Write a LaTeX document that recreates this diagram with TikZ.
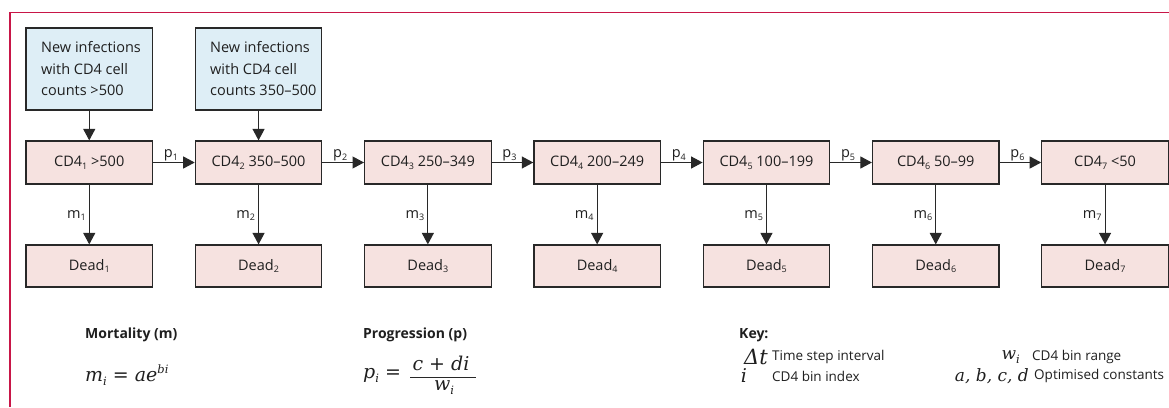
\documentclass[tikz,border=0pt]{standalone}
\usepackage{fontspec}
\setmainfont{Open Sans}
\newfontfamily\fml{DejaVu Serif}
\usetikzlibrary{arrows.meta}
\definecolor{framec}{RGB}{200,22,72}
\definecolor{bluefill}{RGB}{222,238,246}
\definecolor{pinkfill}{RGB}{246,226,224}
\definecolor{edgec}{RGB}{40,40,40}
\newcommand\lsub[1]{\raisebox{-0.35ex}{\fontsize{9}{9}\selectfont #1}}
\newcommand\fsub[1]{\raisebox{-0.4ex}{\fontsize{11.5}{12}\selectfont #1}}
\newcommand\fsup[1]{\raisebox{0.75ex}{\fontsize{11.5}{12}\selectfont #1}}
\begin{document}
\begin{tikzpicture}[x=1pt,y=-1pt,
  txt/.style={font=\fontsize{14.5}{21.5}\selectfont, text=black!88},
  box/.style={draw=edgec, line width=1.2pt, minimum width=126.5pt, minimum height=43pt, inner sep=0pt, txt},
  cdbox/.style={box, fill=pinkfill},
  deadbox/.style={box, fill=pinkfill, minimum height=42pt},
  newbox/.style={box, fill=bluefill, minimum height=82pt},
  arr/.style={-{Triangle[length=11.5pt,width=12pt]}, line width=1.1pt, draw=edgec},
  lab/.style={txt, inner sep=2pt},
  head/.style={font=\bfseries\fontsize{14}{17}\selectfont, text=black!88, inner sep=0pt, anchor=west},
  keytxt/.style={font=\fontsize{13.5}{16}\selectfont, text=black!88, inner sep=0pt, anchor=west},
  fmla/.style={font=\fml\itshape\fontsize{19}{23}\selectfont, text=black!88, inner sep=0pt},
  keysym/.style={font=\fml\itshape\fontsize{17}{20}\selectfont, text=black!88, inner sep=0pt},
]
\useasboundingbox (0,0) rectangle (1169,407);
\draw[framec, line width=1.3pt] (10,407) -- (10,12.5) -- (1169,12.5);

% new infection boxes
\node[newbox] (n1) at (89.25,69) {};
\node[newbox] (n2) at (258.55,69) {};
\node[txt, align=left, anchor=west, inner sep=0pt] (n1t) at (41,69) {New infections\\with CD4 cell\\counts >500};
\node[txt, align=left, anchor=west, inner sep=0pt] (n2t) at (210,69) {New infections\\with CD4 cell\\counts 350–500};

% CD4 boxes and dead boxes
\foreach \i/\t in {1/{>500},2/{350–500},3/{250–349},4/{200–249},5/{100–199},6/{50–99},7/{<50}}{
  \node[cdbox] (c\i) at ({89.25+169.3*(\i-1)},162.5) {CD4\lsub{\i} \t};
  \node[deadbox] (d\i) at ({89.25+169.3*(\i-1)},266) {Dead\lsub{\i}};
  \draw[arr] (c\i) -- node[lab, left, xshift=-1pt, yshift=-1pt]{m\lsub{\i}} (d\i);
}
\foreach \i [evaluate=\i as \j using int(\i+1)] in {1,...,6}{
  \draw[arr] (c\i) -- node[lab, above, xshift=-3pt, yshift=-1pt]{p\lsub{\i}} (c\j);
}
\draw[arr] (n1) -- (c1);
\draw[arr] (n2) -- (c2);

% formulas
\node[head] (hm) at (85,335) {Mortality (m)};
\node[fmla, anchor=west] (fm) at (85,375) {m\fsub{i} = ae\fsup{bi}};
\node[head] (hp) at (363,335) {Progression (p)};
\node[fmla, anchor=west] (fp) at (363,375) {p\fsub{i} =};
\node[fmla] (num) at (441,363) {c + di};
\node[fmla] (den) at (444,388) {w\fsub{i}};
\draw[edgec, line width=1pt] (410,377) -- (476,377);

% key
\node[head] (hk) at (739,335) {Key:};
\node[keysym, anchor=east, font=\fml\itshape\fontsize{21}{24}\selectfont] (kdt) at (768,357) {Δt};
\node[keytxt] (kdtt) at (772,357) {Time step interval};
\node[keysym, font=\fml\itshape\fontsize{19}{22}\selectfont] (ki) at (744,376) {i};
\node[keytxt] (kit) at (772,376) {CD4 bin index};
\node[keysym, anchor=east] (kw) at (1020,357) {w\fsub{i}};
\node[keytxt] (kwt) at (1032,357) {CD4 bin range};
\node[keysym, anchor=east] (kabcd) at (1029,376) {a, b, c, d};
\node[keytxt] (kabcdt) at (1034,376) {Optimised constants};
\end{tikzpicture}
\end{document}
